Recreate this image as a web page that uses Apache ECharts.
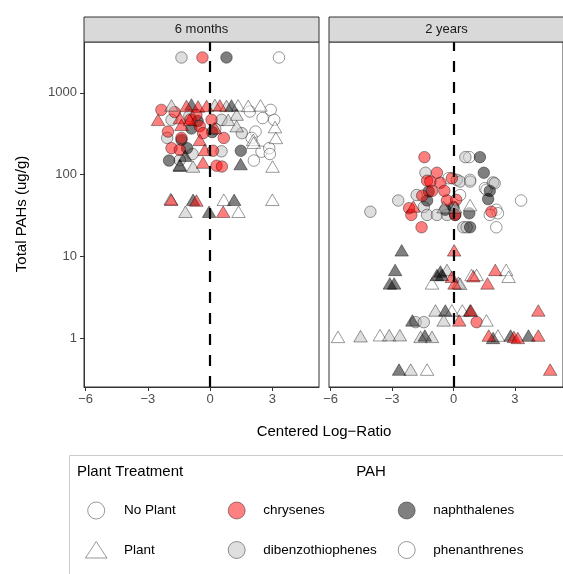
<!DOCTYPE html>
<html><head><meta charset="utf-8">
<script src="https://cdn.jsdelivr.net/npm/echarts@6/dist/echarts.min.js"></script>
<style>html,body{margin:0;padding:0;background:#fff}#c{width:563px;height:574px}</style>
</head><body><div id="c"></div>
<script>
// ---------------- DATA ----------------
const facets = ['6 months', '2 years'];
const pahClasses = ['phenanthrenes', 'dibenzothiophenes', 'naphthalenes', 'chrysenes'];
const treatments = ['No Plant', 'Plant'];
const xTicks = [-6, -3, 0, 3];
const yTicks = [1, 10, 100, 1000];

// [centered log-ratio, total PAHs (ug/g)]
// 6 months, No Plant (circles)
const m6_np_chrysenes = [[-0.37,2700],[-2.35,617],[-1.71,580],[-0.66,536],[-0.95,470],[0.07,466],[-0.50,390],[-0.34,320],[-2.03,335],[-1.38,280],[0.66,280],[-1.86,210],[-1.46,200],[0.14,195],[0.31,128],[0.57,125]];
const m6_np_dibenzothiophenes = [[-1.38,2700],[-1.86,466],[0.55,466],[-2.07,280],[1.53,320],[0.55,192],[-1.46,150],[-0.85,178],[0.25,360],[-1.0,520]];
const m6_np_naphthalenes = [[0.79,2700],[-0.90,365],[-1.38,265],[-1.11,210],[1.48,195],[-1.98,148],[-0.60,450],[0.10,330]];
const m6_np_phenanthrenes = [[3.32,2700],[1.92,590],[2.92,617],[2.53,490],[3.09,466],[2.19,335],[2.0,280],[2.48,190],[2.85,210],[2.88,178],[2.11,148]];
// 6 months, Plant (triangles)
const m6_p_chrysenes = [[-1.14,690],[-0.58,680],[-0.17,690],[0.47,700],[-2.51,466],[-1.46,490],[-0.98,466],[-1.38,405],[0.23,370],[-0.50,265],[-0.26,200],[-0.34,140],[-1.87,49],[-0.66,48],[0.63,35]];
const m6_p_dibenzothiophenes = [[-1.86,700],[0.23,710],[0.79,690],[1.28,540],[0.87,466],[1.28,390],[-0.82,125],[-1.46,131],[-1.9,50],[-1.19,35]];
const m6_p_naphthalenes = [[-0.9,720],[1.03,700],[-1.46,128],[1.47,134],[-1.2,170],[-0.82,49],[1.16,49],[-0.05,35]];
const m6_p_phenanthrenes = [[1.35,700],[1.84,690],[2.43,700],[3.13,380],[3.17,280],[2.08,265],[2.10,245],[3.01,125],[0.66,49],[3.0,49],[1.37,35]];
// 2 years, No Plant (circles)
const y2_np_chrysenes = [[-1.42,163],[-0.81,105],[-1.29,84],[-1.13,82],[-0.64,79],[-0.08,90],[-1.05,63],[-0.45,63],[-1.53,55],[-0.32,48],[0.13,49],[-2.17,38.7],[-2.06,32],[0.08,32],[1.85,35],[-1.56,22.6],[1.13,1.56]];
const y2_np_dibenzothiophenes = [[0.58,163],[-1.37,105],[0.16,86],[0.32,82],[0.81,82],[1.93,80],[2.01,78],[-1.8,56],[-2.7,48],[-4.06,35],[-1.45,40],[-1.29,32],[-0.81,32],[-0.32,32],[0.48,22.6],[0.64,22.6],[-1.85,1.56],[-1.45,1.56]];
const y2_np_naphthalenes = [[1.29,163],[1.48,105],[1.77,63],[1.69,50],[-1.29,48],[-1.21,62],[-0.40,37],[0.0,40],[0.77,33.5],[0.08,32],[0.81,22.6]];
const y2_np_phenanthrenes = [[0.77,163],[-0.24,90],[0.81,86],[1.53,68],[1.61,65],[0.32,56],[3.30,48],[2.09,37],[2.17,33.5],[1.77,32],[2.09,22.6]];
// 2 years, Plant (triangles)
const y2_p_chrysenes = [[-1.96,40.6],[0.03,11.8],[-0.08,5.6],[0.05,4.65],[0.97,5.7],[2.04,6.8],[1.66,4.65],[0.28,1.64],[0.85,2.17],[4.14,2.17],[1.72,1.07],[2.95,1.03],[3.14,1.0],[4.14,1.07],[4.72,0.41]];
const y2_p_dibenzothiophenes = [[-0.48,39.8],[0.08,39.8],[-0.32,6.8],[0.24,4.75],[0.32,4.6],[-0.88,2.17],[-0.48,1.64],[-4.54,1.05],[-3.14,1.08],[-2.62,1.08],[-1.61,1.03],[-1.05,1.03],[-2.09,0.41]];
const y2_p_naphthalenes = [[-2.53,11.8],[-2.85,6.8],[-3.11,4.65],[-2.90,4.65],[-0.81,5.9],[-0.57,5.9],[-0.64,6.5],[0.81,2.17],[-0.40,2.17],[-2.01,1.64],[-1.40,1.07],[1.93,1.0],[2.79,1.07],[3.66,1.07],[-2.66,0.41]];
const y2_p_phenanthrenes = [[0.81,42.2],[-1.05,4.65],[0.88,5.9],[1.13,5.9],[2.57,6.8],[2.69,5.6],[0.43,2.17],[-0.08,2.17],[1.61,1.64],[-5.64,1.03],[-3.59,1.08],[2.17,1.07],[-1.29,0.41]];

// ---------------- BUILD ----------------
const byFacet = [
  {'No Plant': {chrysenes:m6_np_chrysenes, dibenzothiophenes:m6_np_dibenzothiophenes, naphthalenes:m6_np_naphthalenes, phenanthrenes:m6_np_phenanthrenes},
   'Plant': {chrysenes:m6_p_chrysenes, dibenzothiophenes:m6_p_dibenzothiophenes, naphthalenes:m6_p_naphthalenes, phenanthrenes:m6_p_phenanthrenes}},
  {'No Plant': {chrysenes:y2_np_chrysenes, dibenzothiophenes:y2_np_dibenzothiophenes, naphthalenes:y2_np_naphthalenes, phenanthrenes:y2_np_phenanthrenes},
   'Plant': {chrysenes:y2_p_chrysenes, dibenzothiophenes:y2_p_dibenzothiophenes, naphthalenes:y2_p_naphthalenes, phenanthrenes:y2_p_phenanthrenes}}
];
const FILL = {chrysenes:'rgba(255,0,0,0.5)', dibenzothiophenes:'rgba(190,190,190,0.5)', naphthalenes:'rgba(0,0,0,0.5)', phenanthrenes:'rgba(255,255,255,0.5)'};
const LEGFILL = {chrysenes:'#FF8080', dibenzothiophenes:'#DFDFDF', naphthalenes:'#808080', phenanthrenes:'#FFFFFF'};
const STROKE = 'rgba(0,0,0,0.5)';
const FONT = '"Liberation Sans", Arial, Helvetica, sans-serif';
const minus = v => String(v).replace('-', '\u2212');

const G = [{left:84, top:42, width:235, height:345}, {left:329, top:42, width:237, height:345}];
const XMIN = -6.08, XMAX = 5.25, YMIN = 0.251, YMAX = 4178;
const XMAX2 = XMIN + (XMAX - XMIN) * 237 / 235;

const series = [];
facets.forEach((f, fi) => {
  treatments.forEach(t => {
    pahClasses.forEach(p => {
      series.push({
        type:'scatter', xAxisIndex:fi, yAxisIndex:fi, name:p + ' ' + t,
        symbol: t === 'Plant' ? 'triangle' : 'circle',
        symbolSize: t === 'Plant' ? [13.5, 11.5] : 11.5,
        itemStyle:{color:FILL[p], borderColor:STROKE, borderWidth:0.8, opacity:1},
        emphasis:{disabled:true},
        data: byFacet[fi][t][p]
      });
    });
  });
  series.push({
    type:'scatter', xAxisIndex:fi, yAxisIndex:fi, data:[], silent:true,
    markLine:{silent:true, symbol:'none', label:{show:false}, animation:false,
      lineStyle:{color:'#000', type:[11,10], width:2.2}, emphasis:{disabled:true},
      data:[{xAxis:0}]}
  });
});

const grids = G.map(g => Object.assign({show:true, borderColor:'#333', borderWidth:1, backgroundColor:'#fff'}, g));
const xAxes = facets.map((f, i) => ({
  type:'value', gridIndex:i, min:XMIN, max:(i === 0 ? XMAX : XMAX2),
  axisLine:{show:true, onZero:false, lineStyle:{color:'#333', width:1}},
  axisTick:{show:true, length:4, customValues:xTicks, lineStyle:{color:'#333'}},
  axisLabel:{customValues:xTicks, color:'#4D4D4D', fontSize:13, margin:6, fontFamily:FONT, formatter:v => minus(v)},
  splitLine:{show:false}
}));
const yAxes = facets.map((f, i) => ({
  type:'log', logBase:10, gridIndex:i, min:YMIN, max:YMAX,
  axisLine:{show:i === 0, onZero:false, lineStyle:{color:'#333', width:1}},
  axisTick:{show:i === 0, length:4, customValues:yTicks, lineStyle:{color:'#333'}},
  axisLabel:{show:i === 0, customValues:yTicks, color:'#4D4D4D', fontSize:13, margin:7, fontFamily:FONT, formatter:v => String(Math.round(v))},
  splitLine:{show:false}, minorTick:{show:false}
}));

const graphic = [];
// strips
facets.forEach((f, i) => {
  graphic.push({type:'rect', shape:{x:G[i].left, y:17, width:G[i].width, height:25}, style:{fill:'#D9D9D9', stroke:'#333', lineWidth:1}, z:10});
  graphic.push({type:'text', x:G[i].left + 117.5, y:29.5, style:{text:f, fill:'#1A1A1A', font:'13px ' + FONT, align:'center', verticalAlign:'middle'}, z:11});
});
// axis titles
graphic.push({type:'text', x:22, y:214, rotation:Math.PI/2, style:{text:'Total PAHs (ug/g)', fill:'#000', font:'15px ' + FONT, align:'center', verticalAlign:'middle'}});
graphic.push({type:'text', x:324, y:432, style:{text:'Centered Log\u2212Ratio', fill:'#000', font:'15px ' + FONT, align:'center', verticalAlign:'middle'}});
// legend box
graphic.push({type:'rect', shape:{x:69.5, y:455.5, width:520, height:140}, style:{fill:'#fff', stroke:'#CCCCCC', lineWidth:1}});
graphic.push({type:'text', x:77, y:471.5, style:{text:'Plant Treatment', fill:'#000', font:'15px ' + FONT, align:'left', verticalAlign:'middle'}});
graphic.push({type:'text', x:371, y:471.5, style:{text:'PAH', fill:'#000', font:'15px ' + FONT, align:'center', verticalAlign:'middle'}});
// shape legend
graphic.push({type:'circle', shape:{cx:96.2, cy:510.5, r:8.5}, style:{fill:'#fff', stroke:STROKE, lineWidth:0.8}});
graphic.push({type:'polygon', shape:{points:[[85.5,558],[107,558],[96.2,541.5]]}, style:{fill:'#fff', stroke:STROKE, lineWidth:0.8}});
graphic.push({type:'text', x:124, y:510, style:{text:treatments[0], fill:'#000', font:'13.5px ' + FONT, align:'left', verticalAlign:'middle'}});
graphic.push({type:'text', x:124, y:550, style:{text:treatments[1], fill:'#000', font:'13.5px ' + FONT, align:'left', verticalAlign:'middle'}});
// fill legend
const legPos = {chrysenes:[236.7,510.5,263.3], naphthalenes:[406.7,510.5,433.3], dibenzothiophenes:[236.7,550,263.3], phenanthrenes:[406.7,550,433.3]};
pahClasses.forEach(p => {
  const [cx, cy, tx] = legPos[p];
  graphic.push({type:'circle', shape:{cx:cx, cy:cy, r:8.5}, style:{fill:LEGFILL[p], stroke:STROKE, lineWidth:0.8}});
  graphic.push({type:'text', x:tx, y:cy, style:{text:p, fill:'#000', font:'13.5px ' + FONT, align:'left', verticalAlign:'middle'}});
});

const chart = echarts.init(document.getElementById('c'), null, {renderer:'canvas', width:563, height:574});
chart.setOption({
  animation:false,
  backgroundColor:'#fff',
  textStyle:{fontFamily:FONT},
  grid:grids, xAxis:xAxes, yAxis:yAxes, series:series, graphic:graphic
});
</script></body></html>
